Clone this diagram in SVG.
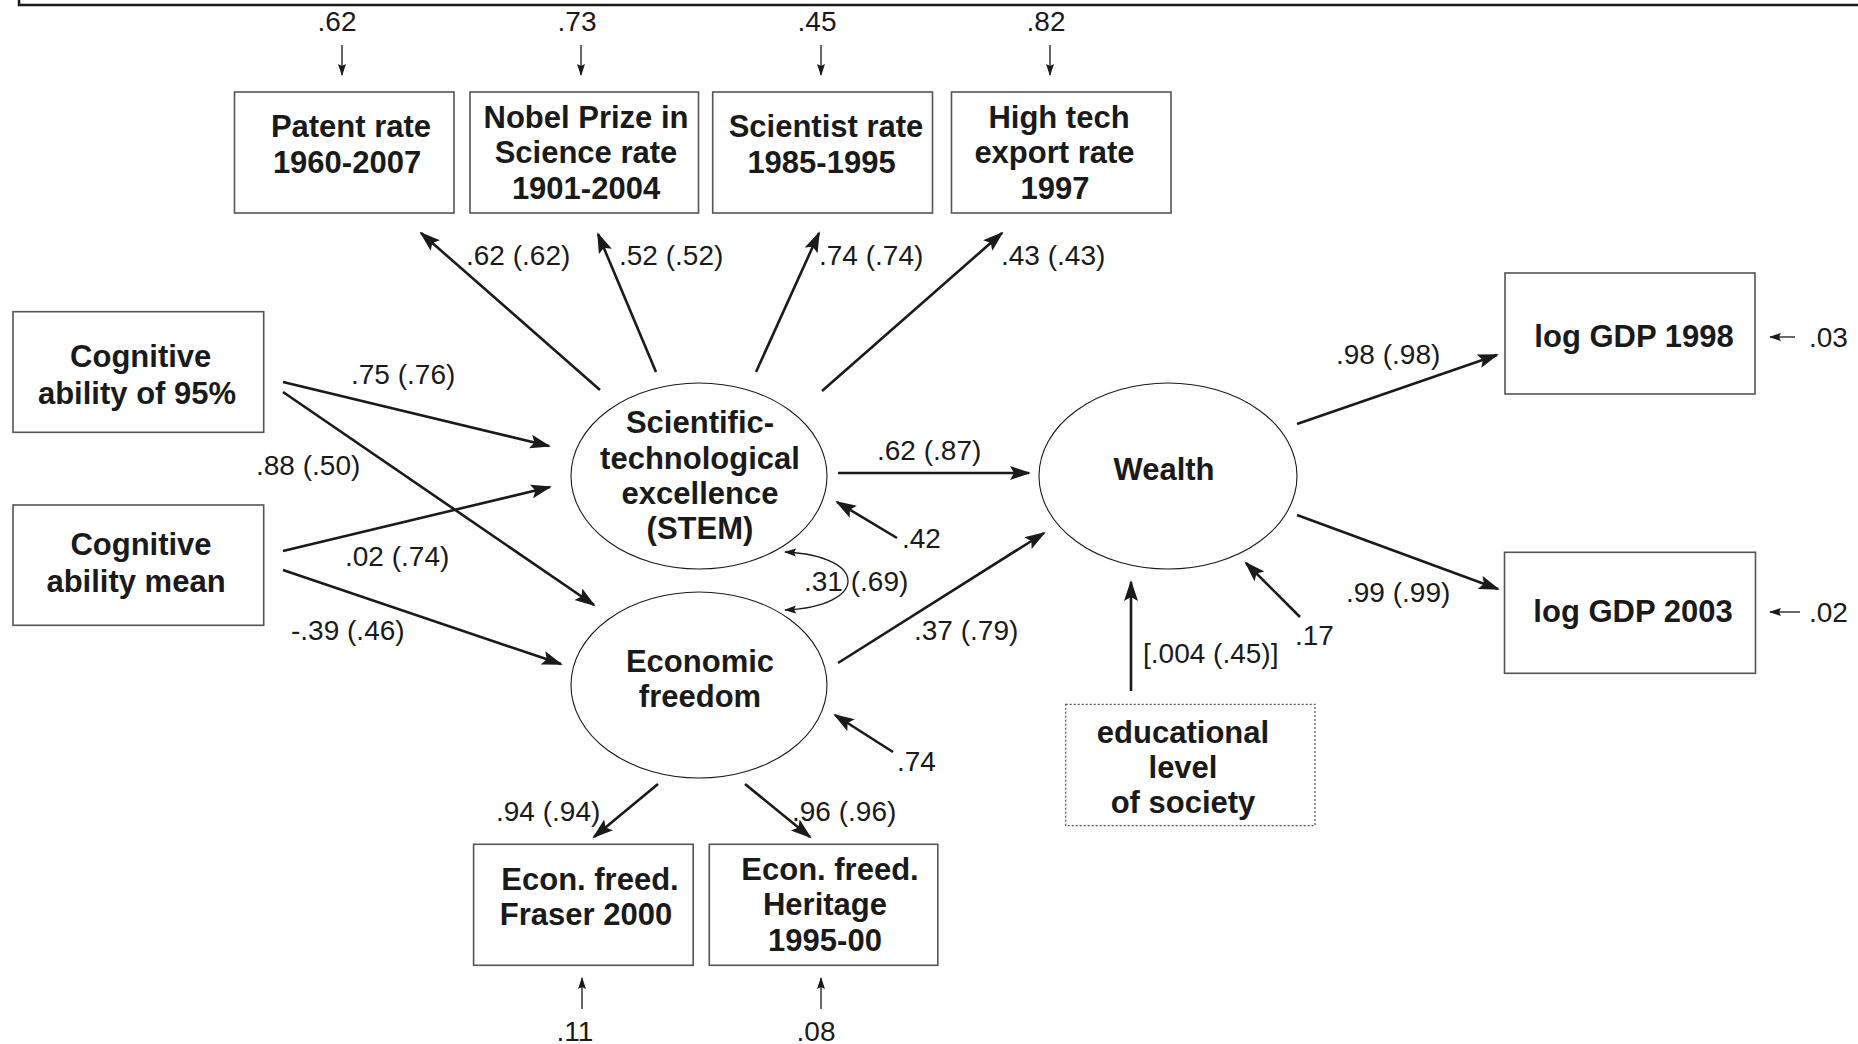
<svg xmlns="http://www.w3.org/2000/svg" width="1858" height="1044" viewBox="0 0 1858 1044">
<style>
  .box { fill: #ffffff; stroke: #555555; stroke-width: 1.6; }
  .dotbox { fill: #ffffff; stroke: #555555; stroke-width: 1.2; stroke-dasharray: 2 2; }
  .ell { fill: #ffffff; stroke: #1a1a1a; stroke-width: 1.1; }
  .nt { font-family: "Liberation Sans", Arial, sans-serif; font-weight: bold; font-size: 31px; fill: #1a1a1a; text-anchor: middle; }
  .lb { font-family: "Liberation Sans", Arial, sans-serif; font-size: 28px; fill: #1a1a1a; }
  .lc { font-family: "Liberation Sans", Arial, sans-serif; font-size: 28px; fill: #1a1a1a; text-anchor: middle; }
  .arr { stroke: #1a1a1a; stroke-width: 2.6; fill: none; marker-end: url(#big); }
  .thin { stroke: #1a1a1a; stroke-width: 1.3; fill: none; marker-end: url(#small); }
  .dbl { stroke: #1a1a1a; stroke-width: 1.3; fill: none; marker-start: url(#small2); marker-end: url(#small2); }
  .frame { stroke: #1a1a1a; stroke-width: 2.5; fill: none; }
</style>
<defs>
  <marker id="big" markerUnits="userSpaceOnUse" markerWidth="24" markerHeight="16" refX="19" refY="7" orient="auto">
    <path d="M0,0 L21,7 L0,14 L4,7 z" fill="#1a1a1a"/>
  </marker>
  <marker id="small" markerUnits="userSpaceOnUse" markerWidth="14" markerHeight="10" refX="11" refY="4" orient="auto">
    <path d="M0,0 L12,4 L0,8 L2,4 z" fill="#1a1a1a"/>
  </marker>
  <marker id="small2" markerUnits="userSpaceOnUse" markerWidth="14" markerHeight="10" refX="11" refY="4" orient="auto-start-reverse">
    <path d="M0,0 L12,4 L0,8 L2,4 z" fill="#1a1a1a"/>
  </marker>
</defs>
<rect width="1858" height="1044" fill="#ffffff"/>
<path class="frame" d="M19,0 L19,5 L1858,5"/>

<g id="connectors">
  <line class="arr" x1="600" y1="390" x2="421" y2="233"/>
  <line class="arr" x1="656" y1="372" x2="598" y2="234"/>
  <line class="arr" x1="756" y1="372" x2="819" y2="233"/>
  <line class="arr" x1="822" y1="391" x2="1002" y2="233"/>
  <line class="arr" x1="283" y1="382" x2="549" y2="446"/>
  <line class="arr" x1="283" y1="392" x2="594" y2="605"/>
  <line class="arr" x1="283" y1="551" x2="550" y2="487"/>
  <line class="arr" x1="283" y1="570" x2="561" y2="664"/>
  <line class="arr" x1="838" y1="473" x2="1029" y2="473"/>
  <line class="arr" x1="897" y1="538" x2="837" y2="502"/>
  <line class="arr" x1="838" y1="663" x2="1044" y2="533"/>
  <line class="arr" x1="893" y1="752" x2="835" y2="715"/>
  <line class="arr" x1="1131" y1="691" x2="1131" y2="582"/>
  <line class="arr" x1="1300" y1="617" x2="1246" y2="563"/>
  <line class="arr" x1="1297" y1="424" x2="1497" y2="355"/>
  <line class="arr" x1="1297" y1="515" x2="1498" y2="589"/>
  <line class="arr" x1="658" y1="784" x2="594" y2="837"/>
  <line class="arr" x1="745" y1="784" x2="810" y2="837"/>
  <path class="dbl" d="M785,552 C869,556 869,606 785,610"/>
  <line class="thin" x1="342" y1="45" x2="342" y2="75"/>
  <line class="thin" x1="581" y1="45" x2="581" y2="75"/>
  <line class="thin" x1="821" y1="45" x2="821" y2="75"/>
  <line class="thin" x1="1050" y1="45" x2="1050" y2="75"/>
  <line class="thin" x1="1795" y1="337" x2="1770" y2="337"/>
  <line class="thin" x1="1800" y1="612" x2="1770" y2="612"/>
  <line class="thin" x1="582" y1="1009" x2="582" y2="978"/>
  <line class="thin" x1="821" y1="1009" x2="821" y2="978"/>
</g>

<g id="labels">
  <text class="lc" x="337" y="31">.62</text>
  <text class="lc" x="577" y="31">.73</text>
  <text class="lc" x="817" y="31">.45</text>
  <text class="lc" x="1046" y="31">.82</text>
  <text class="lb" x="466" y="265">.62 (.62)</text>
  <text class="lb" x="619" y="265">.52 (.52)</text>
  <text class="lb" x="819" y="265">.74 (.74)</text>
  <text class="lb" x="1001" y="265">.43 (.43)</text>
  <text class="lb" x="351" y="384">.75 (.76)</text>
  <text class="lb" x="256" y="475">.88 (.50)</text>
  <text class="lb" x="345" y="566">.02 (.74)</text>
  <text class="lb" x="291" y="640">-.39 (.46)</text>
  <text class="lb" x="877" y="460">.62 (.87)</text>
  <text class="lb" x="902" y="548">.42</text>
  <text class="lb" x="804" y="591">.31 (.69)</text>
  <text class="lb" x="914" y="640">.37 (.79)</text>
  <text class="lb" x="897" y="771">.74</text>
  <text class="lb" x="1143" y="663">[.004 (.45)]</text>
  <text class="lb" x="1295" y="645">.17</text>
  <text class="lb" x="1336" y="364">.98 (.98)</text>
  <text class="lb" x="1346" y="602">.99 (.99)</text>
  <text class="lb" x="496" y="821">.94 (.94)</text>
  <text class="lb" x="792" y="821">.96 (.96)</text>
  <text class="lb" x="1809" y="347">.03</text>
  <text class="lb" x="1809" y="622">.02</text>
  <text class="lc" x="575" y="1041">.11</text>
  <text class="lc" x="816" y="1041">.08</text>
</g>

<g id="patent">
  <rect class="box" x="234.5" y="92" width="219.5" height="121"/>
  <text class="nt" x="351" y="137">Patent rate</text>
  <text class="nt" x="347" y="173">1960-2007</text>
</g>
<g id="nobel">
  <rect class="box" x="470" y="92" width="228.5" height="121"/>
  <text class="nt" x="586" y="128">Nobel Prize in</text>
  <text class="nt" x="586" y="163">Science rate</text>
  <text class="nt" x="586" y="199">1901-2004</text>
</g>
<g id="scientist">
  <rect class="box" x="712.7" y="92" width="219.8" height="121"/>
  <text class="nt" x="826" y="137">Scientist rate</text>
  <text class="nt" x="821.5" y="173">1985-1995</text>
</g>
<g id="hightech">
  <rect class="box" x="951.5" y="92" width="219.5" height="121"/>
  <text class="nt" x="1059" y="128">High tech</text>
  <text class="nt" x="1054.5" y="163">export rate</text>
  <text class="nt" x="1055" y="199">1997</text>
</g>
<g id="cog95">
  <rect class="box" x="13" y="311.7" width="250.7" height="120.6"/>
  <text class="nt" x="140.7" y="367">Cognitive</text>
  <text class="nt" x="137" y="404">ability of 95%</text>
</g>
<g id="cogmean">
  <rect class="box" x="13" y="505" width="250.7" height="120.3"/>
  <text class="nt" x="141" y="555">Cognitive</text>
  <text class="nt" x="136" y="592">ability mean</text>
</g>
<g id="stem">
  <ellipse class="ell" cx="699" cy="476" rx="128" ry="93"/>
  <text class="nt" x="700" y="433">Scientific-</text>
  <text class="nt" x="700" y="469">technological</text>
  <text class="nt" x="700" y="504">excellence</text>
  <text class="nt" x="700" y="539">(STEM)</text>
</g>
<g id="econfreedom">
  <ellipse class="ell" cx="699" cy="685" rx="128" ry="93"/>
  <text class="nt" x="700" y="672">Economic</text>
  <text class="nt" x="700" y="707">freedom</text>
</g>
<g id="wealth">
  <ellipse class="ell" cx="1168" cy="476" rx="129" ry="93"/>
  <text class="nt" x="1164" y="480">Wealth</text>
</g>
<g id="gdp1998">
  <rect class="box" x="1505" y="273" width="250" height="121"/>
  <text class="nt" x="1634" y="347">log GDP 1998</text>
</g>
<g id="gdp2003">
  <rect class="box" x="1504.5" y="552.3" width="251" height="121"/>
  <text class="nt" x="1633" y="622">log GDP 2003</text>
</g>
<g id="education">
  <rect class="dotbox" x="1065.7" y="704.3" width="249.3" height="121.4"/>
  <text class="nt" x="1183" y="743">educational</text>
  <text class="nt" x="1183" y="778">level</text>
  <text class="nt" x="1183" y="813">of society</text>
</g>
<g id="fraser">
  <rect class="box" x="473.6" y="844.3" width="219.6" height="121"/>
  <text class="nt" x="590" y="890">Econ. freed.</text>
  <text class="nt" x="586" y="925">Fraser 2000</text>
</g>
<g id="heritage">
  <rect class="box" x="709.3" y="844.3" width="228.5" height="121"/>
  <text class="nt" x="830" y="880">Econ. freed.</text>
  <text class="nt" x="825" y="915">Heritage</text>
  <text class="nt" x="825" y="951">1995-00</text>
</g>
</svg>
